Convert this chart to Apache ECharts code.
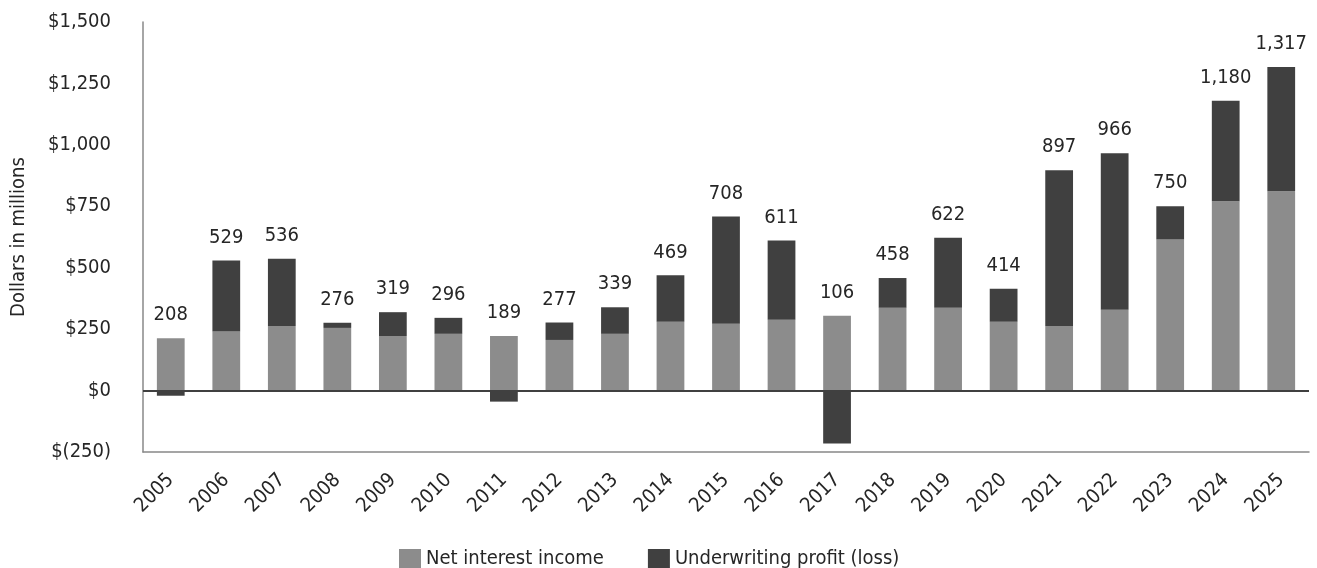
<!DOCTYPE html>
<html lang="en">
<head>
  <meta charset="UTF-8">
  <title>Net interest income and underwriting profit</title>
  <style>
    html, body { margin: 0; padding: 0; background: #fff; }
    #main { width: 1317px; height: 568px; }
  </style>
</head>
<body>
  <div id="main"></div>
  <script src="https://cdn.jsdelivr.net/npm/echarts@6/dist/echarts.min.js"></script>
  <script>
    // data (millions of dollars)
    var years = ['2005', '2006', '2007', '2008', '2009', '2010', '2011', '2012', '2013', '2014', '2015',
                 '2016', '2017', '2018', '2019', '2020', '2021', '2022', '2023', '2024', '2025'];
    var netInterest = [213, 240, 263, 255, 222, 231, 222, 206, 231, 280, 272,
                       288, 304, 337, 337, 280, 263, 329, 615, 770, 811];
    var underwriting = [-21, 289, 273, 21, 97, 65, -45, 71, 108, 189, 436,
                        323, -215, 121, 285, 134, 634, 637, 135, 410, 506];
    var totals = [208, 529, 536, 276, 319, 296, 189, 277, 339, 469, 708,
                  611, 106, 458, 622, 414, 897, 966, 750, 1180, 1317];

    var FONT = '"DejaVu Sans Condensed", "DejaVu Sans", sans-serif';
    var SIZE = 20;
    var TEXT = '#262626';

    function fmt(n) {
      return String(n).replace(/\B(?=(\d{3})+(?!\d))/g, ',');
    }

    var totalLabel = {
      show: true,
      position: 'top',
      distance: 13,
      fontFamily: FONT,
      fontSize: SIZE,
      color: TEXT,
      formatter: function (p) { return fmt(totals[p.dataIndex]); }
    };

    // the total sits on whichever segment ends highest
    var niiData = netInterest.map(function (v, i) {
      return { value: v, label: underwriting[i] < 0 ? totalLabel : { show: false } };
    });
    var uwData = underwriting.map(function (v, i) {
      return { value: v, label: v >= 0 ? totalLabel : { show: false } };
    });

    var chart = echarts.init(document.getElementById('main'));
    chart.setOption({
      animation: false,
      textStyle: { fontFamily: FONT },
      grid: { left: 143, right: 8, top: 22, bottom: 116, containLabel: false },
      legend: {
        left: 394,
        top: 544,
        icon: 'rect',
        itemWidth: 22,
        itemHeight: 20,
        itemGap: 44,
        textStyle: { fontFamily: FONT, fontSize: SIZE, color: TEXT },
        data: ['Net interest income', 'Underwriting profit (loss)']
      },
      xAxis: {
        type: 'category',
        data: years,
        axisLine: { onZero: false, lineStyle: { color: '#888', width: 1.5 } },
        axisTick: { alignWithLabel: true, length: 10, lineStyle: { color: '#888', width: 1.5 } },
        axisLabel: { rotate: 45, margin: 25, fontFamily: FONT, fontSize: SIZE, color: TEXT, interval: 0 }
      },
      yAxis: {
        type: 'value',
        min: -250,
        max: 1500,
        interval: 250,
        name: 'Dollars in millions',
        nameLocation: 'middle',
        nameRotate: 90,
        nameGap: 114,
        nameTextStyle: { fontFamily: FONT, fontSize: SIZE, color: TEXT },
        axisLine: { show: true, lineStyle: { color: '#888', width: 1.5 } },
        axisTick: { show: false },
        splitLine: { show: false },
        axisLabel: {
          margin: 32,
          fontFamily: FONT,
          fontSize: SIZE,
          color: TEXT,
          formatter: function (v) {
            return v < 0 ? '$(' + fmt(-v) + ')' : '$' + fmt(v);
          }
        }
      },
      series: [
        {
          name: 'Net interest income',
          type: 'bar',
          stack: 'total',
          barWidth: '50%',
          itemStyle: { color: '#8c8c8c' },
          data: niiData
        },
        {
          name: 'Underwriting profit (loss)',
          type: 'bar',
          stack: 'total',
          barWidth: '50%',
          itemStyle: { color: '#404040' },
          data: uwData,
          markLine: {
            silent: true,
            symbol: 'none',
            label: { show: false },
            lineStyle: { color: '#404040', width: 2, type: 'solid' },
            data: [{ yAxis: 0 }]
          }
        }
      ]
    });
  </script>
</body>
</html>
